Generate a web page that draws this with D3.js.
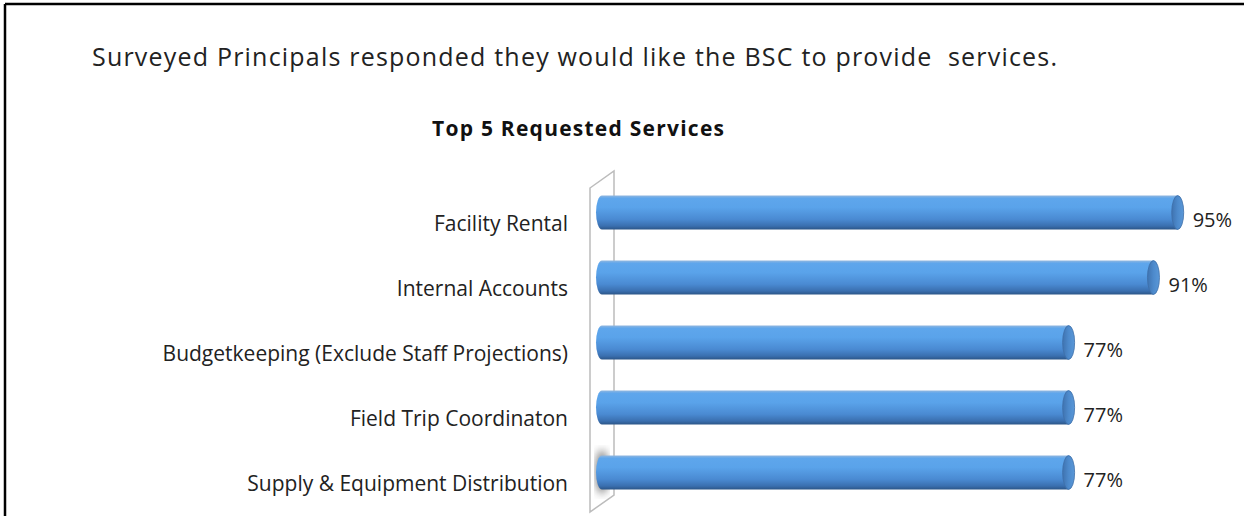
<!DOCTYPE html>
<html>
<head>
<meta charset="utf-8">
<script src="https://cdn.jsdelivr.net/npm/d3@7"></script>
<style>
    body { margin: 0; background: #fff; }
    svg { display: block; }
    text { white-space: pre; }
</style>
</head>
<body>
<svg id="chart" width="1244" height="516"></svg>
<script>
const headline = "Surveyed Principals responded they would like the BSC to provide  services.";
const chartTitle = "Top 5 Requested Services";
const services = [
    "Facility Rental",
    "Internal Accounts",
    "Budgetkeeping (Exclude Staff Projections)",
    "Field Trip Coordinaton",
    "Supply & Equipment Distribution"
];
const percents = [95, 91, 77, 77, 77];

const font = "'Open Sans', sans-serif";

let svg = d3.select("#chart");
let dims = {width: +svg.attr("width"), height: +svg.attr("height")};

// page frame (only top and left edges are visible in the reference)
svg.append("line").attr("x1", 5).attr("x2", dims.width).attr("y1", 4).attr("y2", 4)
    .attr("stroke", "#000").attr("stroke-width", 2.5);
svg.append("line").attr("x1", 5).attr("x2", 5).attr("y1", 4).attr("y2", dims.height)
    .attr("stroke", "#000").attr("stroke-width", 2.5);

svg.append("text")
    .attr("x", 92).attr("y", 66)
    .attr("textLength", 965).attr("lengthAdjust", "spacing")
    .style("font-family", font).style("font-size", "25px").style("fill", "#222")
    .text(headline);

svg.append("text")
    .attr("x", 432).attr("y", 136)
    .attr("textLength", 292).attr("lengthAdjust", "spacing")
    .style("font-family", font).style("font-size", "21px").style("font-weight", "bold").style("fill", "#111")
    .text(chartTitle);

let scale = {
    x: d3.scaleLinear().domain([0, 100]).range([602, 1208]),
    y: d3.scaleBand().domain(services).range([180, 505]).paddingInner(0.48).paddingOuter(0.24)
};

let defs = svg.append("defs");
let grad = defs.append("linearGradient")
    .attr("id", "barGrad").attr("x1", 0).attr("x2", 0).attr("y1", 0).attr("y2", 1);
[[0, "#8fb6df"], [0.08, "#5ea6ec"], [0.35, "#5aa3ea"], [0.7, "#4a8ad2"], [0.9, "#3a6faf"], [1, "#2c5688"]]
    .forEach(s => grad.append("stop").attr("offset", s[0]).attr("stop-color", s[1]));

let capGrad = defs.append("linearGradient")
    .attr("id", "capGrad").attr("x1", 0).attr("x2", 1).attr("y1", 0).attr("y2", 0);
[[0, "#3f73b0"], [0.5, "#4d8acc"], [1, "#5a98d8"]]
    .forEach(s => capGrad.append("stop").attr("offset", s[0]).attr("stop-color", s[1]));

defs.append("filter").attr("id", "blur")
    .append("feGaussianBlur").attr("stdDeviation", 4);

// back wall of the 3D plot
let wall = svg.append("g");
wall.append("path")
    .attr("d", "M590,188 L614,171 L614,495 L590,512 Z")
    .attr("fill", "#fff").attr("stroke", "#bcbcbc").attr("stroke-width", 1.5);
wall.append("ellipse")
    .attr("cx", 602).attr("cy", 472).attr("rx", 6).attr("ry", 22)
    .attr("fill", "#777").attr("filter", "url(#blur)");

let bh = scale.y.bandwidth();
let rx = 6;

let bars = svg.append("g").selectAll("g.bar")
    .data(services.map((s, i) => ({name: s, value: percents[i]})))
    .enter()
    .append("g")
    .attr("class", "bar");

bars.append("path")
    .attr("d", d => {
        let x0 = scale.x(0), x1 = scale.x(d.value), y0 = scale.y(d.name);
        return `M${x1},${y0} H${x0} A${rx},${bh / 2} 0 0 0 ${x0},${y0 + bh} H${x1} Z`;
    })
    .attr("fill", "url(#barGrad)");

bars.append("ellipse")
    .attr("cx", d => scale.x(d.value))
    .attr("cy", d => scale.y(d.name) + bh / 2)
    .attr("rx", rx).attr("ry", bh / 2)
    .attr("fill", "url(#capGrad)")
    .attr("stroke", "#3d6ea8").attr("stroke-width", 0.8);

bars.append("text")
    .attr("x", d => scale.x(d.value) + 15)
    .attr("y", d => scale.y(d.name) + bh / 2 + 14.5)
    .style("font-family", font).style("font-size", "20px").style("fill", "#222")
    .text(d => d.value + "%");

// category labels sit a little lower than the bars (3D perspective)
svg.append("g").selectAll("text.cat")
    .data(services)
    .enter()
    .append("text")
    .attr("class", "cat")
    .attr("x", 568)
    .attr("y", d => scale.y(d) + bh / 2 + 18)
    .attr("text-anchor", "end")
    .style("font-family", font).style("font-size", "21px").style("fill", "#222")
    .text(d => d);
</script>
</body>
</html>
